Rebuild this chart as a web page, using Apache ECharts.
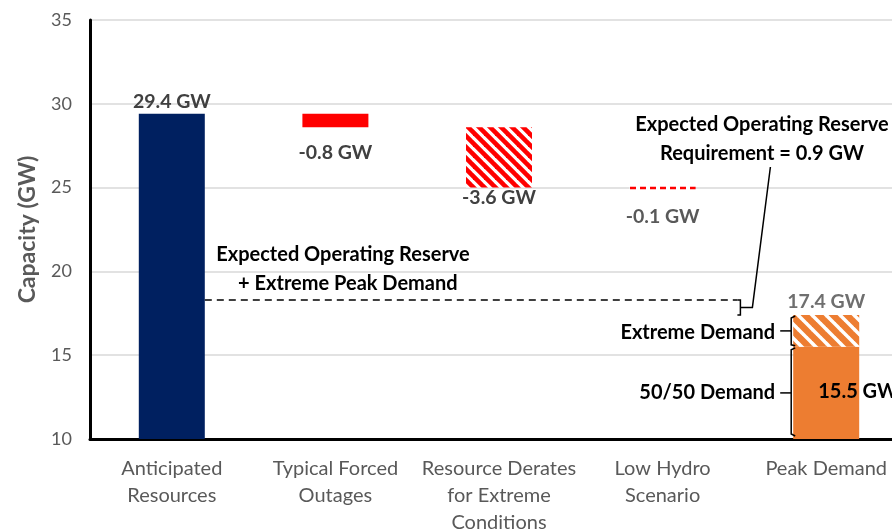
<!DOCTYPE html>
<html>
<head>
<meta charset="utf-8">
<script src="https://cdn.jsdelivr.net/npm/echarts@6/dist/echarts.min.js"></script>
<style>
  html, body { margin: 0; padding: 0; background: #fff; overflow: hidden; }
  #chart { width: 908px; height: 530px; }
</style>
</head>
<body>
<div id="chart"></div>
<script>
// Capacity waterfall: anticipated resources reduced by outages and derates, compared with peak demand
const categories = ['Anticipated\nResources', 'Typical Forced\nOutages', 'Resource Derates\nfor Extreme\nConditions', 'Low Hydro\nScenario', 'Peak Demand'];
const anticipatedResources = 29.4;
const forcedOutages = -0.8;
const extremeDerates = -3.6;
const lowHydro = -0.1;
const demand5050 = 15.5;
const demandExtreme = 17.4;
const reserveRequirement = 0.9;
const yAxisMin = 10;
const yAxisMax = 35;
const yAxisStep = 5;

const FONT = 'Lato, "Open Sans", sans-serif';

// running levels of the waterfall
const afterOutages = +(anticipatedResources + forcedOutages).toFixed(1);
const afterDerates = +(afterOutages + extremeDerates).toFixed(1);
const afterHydro = +(afterDerates + lowHydro).toFixed(1);
const extremeStep = +(demandExtreme - demand5050).toFixed(1);
const reserveLevel = +(demandExtreme + reserveRequirement).toFixed(1);

const baseValues = [null, afterOutages, afterDerates, afterHydro, null];
const resourceValues = [anticipatedResources, null, null, null, null];
const outageValues = [null, -forcedOutages, null, null, null];
const derateValues = [null, null, -extremeDerates, null, null];
const hydroValues = [null, null, null, -lowHydro, null];
const normalDemandValues = [null, null, null, null, demand5050];
const extremeDemandValues = [null, null, null, null, extremeStep];

// diagonal stripe tile ("\" direction)
function stripes(color, tile, width) {
  const c = document.createElement('canvas');
  c.width = tile; c.height = tile;
  const g = c.getContext('2d');
  g.fillStyle = '#ffffff';
  g.fillRect(0, 0, tile, tile);
  g.strokeStyle = color;
  g.lineWidth = width;
  for (const a of [-tile, 0, tile]) {
    g.beginPath();
    g.moveTo(a - 2, -2);
    g.lineTo(a + tile + 2, tile + 2);
    g.stroke();
  }
  return { image: c, repeat: 'repeat' };
}
// horizontal dash tile
function dashes(color, len, gap, h) {
  const c = document.createElement('canvas');
  c.width = len + gap; c.height = h;
  const g = c.getContext('2d');
  g.fillStyle = '#ffffff';
  g.fillRect(0, 0, len + gap, h);
  g.fillStyle = color;
  g.fillRect(0, 0, len, h);
  return { image: c, repeat: 'repeat' };
}

const fmtNeg = v => (v).toFixed(1) + ' GW';
const BAR_W = 66;
const valueLabel = {
  fontFamily: FONT, fontWeight: 'bold', fontSize: 19.5, color: '#404040'
};

const chart = echarts.init(document.getElementById('chart'), null, { renderer: 'canvas' });

const option = {
  animation: false,
  backgroundColor: '#ffffff',
  grid: { left: 90, right: 0, top: 20, bottom: 91, containLabel: false, outerBoundsMode: 'none' },
  xAxis: {
    type: 'category',
    data: categories,
    axisLine: { show: true, lineStyle: { color: '#000', width: 3 } },
    axisTick: { show: false },
    axisLabel: {
      interval: 0, margin: 16, color: '#595959', fontFamily: FONT,
      fontSize: 20, lineHeight: 27
    },
    splitLine: { show: false }
  },
  yAxis: {
    type: 'value',
    min: yAxisMin, max: yAxisMax, interval: yAxisStep,
    name: 'Capacity (GW)',
    nameLocation: 'middle',
    nameGap: 51,
    nameTextStyle: {
      color: '#595959', fontFamily: FONT, fontWeight: 'bold', fontSize: 23
    },
    axisLine: { show: true, lineStyle: { color: '#000', width: 3 } },
    axisTick: { show: false },
    axisLabel: { color: '#595959', fontFamily: FONT, fontSize: 18, margin: 18 },
    splitLine: { lineStyle: { color: '#d9d9d9', width: 1.5 } }
  },
  series: [
    {
      name: 'base', type: 'bar', stack: 'w', barWidth: BAR_W,
      data: baseValues, itemStyle: { color: 'transparent' }, silent: true
    },
    {
      name: 'Anticipated Resources', type: 'bar', stack: 'w', barWidth: BAR_W,
      data: resourceValues, itemStyle: { color: '#002060' },
      label: {
        show: true, position: 'top', distance: 2, ...valueLabel,
        formatter: p => p.value.toFixed(1) + ' GW'
      }
    },
    {
      name: 'Typical Forced Outages', type: 'bar', stack: 'w', barWidth: BAR_W,
      data: outageValues, itemStyle: { color: '#ff0000' },
      label: {
        show: true, position: 'bottom', distance: 15, ...valueLabel,
        formatter: () => fmtNeg(forcedOutages)
      }
    },
    {
      name: 'Resource Derates', type: 'bar', stack: 'w', barWidth: BAR_W,
      data: derateValues, itemStyle: { color: stripes('#ff0000', 11, 4.6) },
      label: {
        show: true, position: 'bottom', distance: 0, ...valueLabel,
        formatter: () => fmtNeg(extremeDerates)
      }
    },
    {
      name: 'Low Hydro', type: 'bar', stack: 'w', barWidth: BAR_W, barMinHeight: 2.5,
      data: hydroValues, itemStyle: { color: dashes('#ff0000', 6, 4, 4) },
      label: {
        show: true, position: 'bottom', distance: 17, ...valueLabel, color: '#595959',
        formatter: () => fmtNeg(lowHydro)
      }
    },
    {
      name: '50/50 Demand', type: 'bar', stack: 'w', barWidth: BAR_W,
      data: normalDemandValues, itemStyle: { color: '#ed7d31' },
      label: {
        show: true, position: [25, 45], align: 'left', verticalAlign: 'middle',
        ...valueLabel, color: '#000', fontSize: 20,
        formatter: p => p.value.toFixed(1) + ' GW'
      }
    },
    {
      name: 'Extreme Demand', type: 'bar', stack: 'w', barWidth: BAR_W,
      data: extremeDemandValues, itemStyle: { color: stripes('#ed7d31', 14, 6.5) },
      label: {
        show: true, position: 'top', distance: 3, ...valueLabel, color: '#6f6f6f',
        formatter: () => demandExtreme.toFixed(1) + ' GW'
      }
    }
  ]
};
chart.setOption(option);

// annotations tied to the axis scales
const px = (cat, v) => chart.convertToPixel({ xAxisIndex: 0, yAxisIndex: 0 }, [cat, v]);
const c0 = px(0, yAxisMin);
const c3 = px(3, yAxisMin);
const c4 = px(4, yAxisMin);
const yReserve = px(4, reserveLevel)[1];
const yExtreme = px(4, demandExtreme)[1];
const y5050 = px(4, demand5050)[1];
const yBase = c4[1];
const braceX = (c3[0] + c4[0]) / 2 - 4;
const braceMid = (yReserve + yExtreme) / 2;
const bracketX = c4[0] - BAR_W / 2 - 2;

const lineStyle = { stroke: '#000', lineWidth: 1.5, fill: null };
const annText = (text, x, y, align) => ({
  type: 'text', z: 20,
  style: {
    text, x, y, align: align || 'center', verticalAlign: 'middle',
    fontFamily: FONT, fontWeight: 'bold', fontSize: 20, lineHeight: 29, fill: '#000'
  }
});

chart.setOption({
  graphic: [
    { // reserve + extreme demand level
      type: 'line', z: 15,
      shape: { x1: c0[0] + BAR_W / 2, y1: yReserve, x2: braceX - 3, y2: yReserve },
      style: { stroke: '#000', lineWidth: 1.5, lineDash: [7, 5] }
    },
    { // brace around the operating reserve
      type: 'polyline', z: 15,
      shape: { points: [[braceX - 3, yReserve], [braceX, yReserve], [braceX, yExtreme], [braceX - 3, yExtreme]] },
      style: lineStyle
    },
    {
      type: 'polyline', z: 15,
      shape: { points: [[braceX, braceMid], [braceX + 12, braceMid], [braceX + 30, 167]] },
      style: lineStyle
    },
    annText('Expected Operating Reserve\nRequirement = 0.9 GW', 762, 139),
    annText('Expected Operating Reserve\n  + Extreme Peak Demand', 343, 269),
    { // extreme demand bracket
      type: 'polyline', z: 15,
      shape: { points: [[bracketX + 4, yExtreme + 1], [bracketX, yExtreme + 3], [bracketX, y5050 - 2], [bracketX + 4, y5050 - 1]] },
      style: lineStyle
    },
    {
      type: 'line', z: 15,
      shape: { x1: bracketX - 11, y1: (yExtreme + y5050) / 2, x2: bracketX, y2: (yExtreme + y5050) / 2 },
      style: lineStyle
    },
    annText('Extreme Demand', bracketX - 16, (yExtreme + y5050) / 2 + 2, 'right'),
    { // 50/50 demand bracket
      type: 'polyline', z: 15,
      shape: { points: [[bracketX + 4, y5050 + 1], [bracketX, y5050 + 3], [bracketX, yBase - 5], [bracketX + 4, yBase - 3]] },
      style: lineStyle
    },
    {
      type: 'line', z: 15,
      shape: { x1: bracketX - 11, y1: (y5050 + yBase) / 2, x2: bracketX, y2: (y5050 + yBase) / 2 },
      style: lineStyle
    },
    annText('50/50 Demand', bracketX - 16, (y5050 + yBase) / 2, 'right')
  ]
});
</script>
</body>
</html>
